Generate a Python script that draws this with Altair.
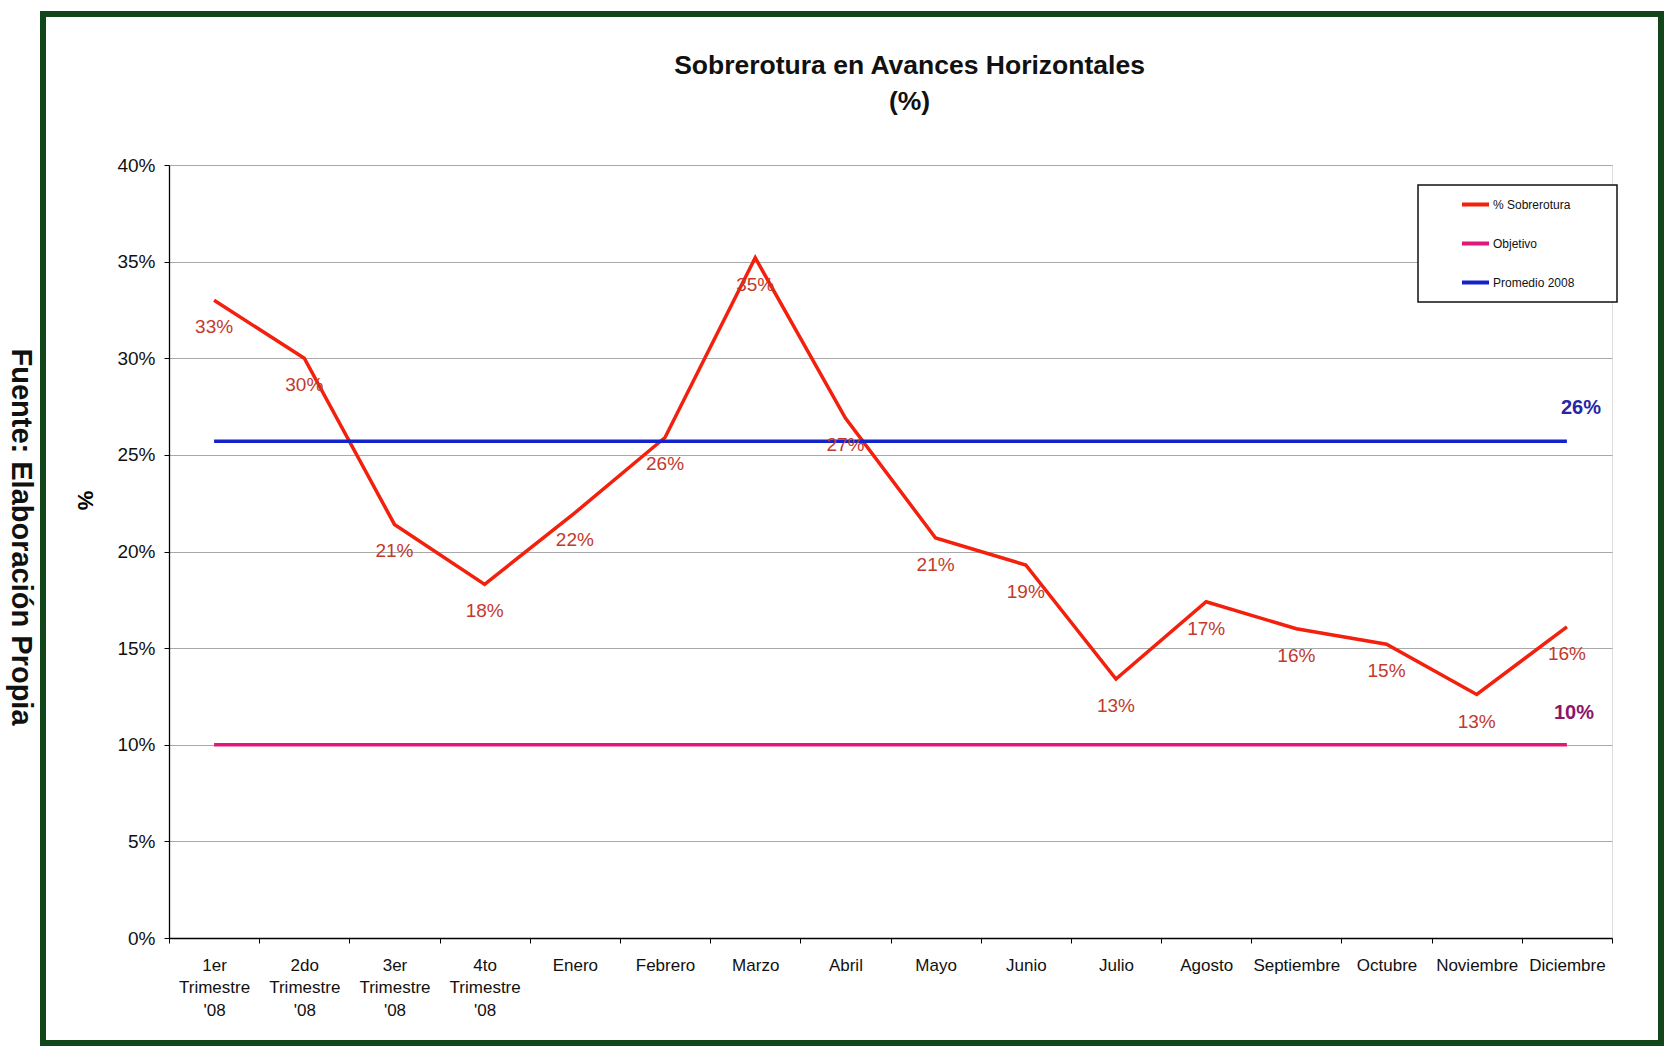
import altair as alt
import pandas as pd

# Categories (x axis); "|" marks line breaks in the tick labels
categorias = [
    "1er|Trimestre|'08", "2do|Trimestre|'08", "3er|Trimestre|'08", "4to|Trimestre|'08",
    "Enero", "Febrero", "Marzo", "Abril", "Mayo", "Junio", "Julio", "Agosto",
    "Septiembre", "Octubre", "Noviembre", "Diciembre",
]
# % Sobrerotura per period
sobrerotura = [0.330, 0.300, 0.214, 0.183, 0.220, 0.259, 0.352, 0.269,
               0.207, 0.193, 0.134, 0.174, 0.160, 0.152, 0.126, 0.161]
objetivo = 0.10
promedio_2008 = 0.257

series = ["% Sobrerotura", "Objetivo", "Promedio 2008"]
colores = ["#f2200c", "#e0187c", "#1422cc"]

FONT = "Liberation Sans"

rows = []
for i, (c, v) in enumerate(zip(categorias, sobrerotura)):
    rows.append({"categoria": c, "serie": series[0], "valor": v, "orden": i})
for i, c in enumerate(categorias):
    rows.append({"categoria": c, "serie": series[1], "valor": objetivo, "orden": i})
    rows.append({"categoria": c, "serie": series[2], "valor": promedio_2008, "orden": i})
df = pd.DataFrame(rows)
df_sob = df[df["serie"] == series[0]]

X = alt.X(
    "categoria:N",
    sort=categorias,
    bandPosition=0.5,
    scale=alt.Scale(type="band", paddingInner=0, paddingOuter=0),
    axis=alt.Axis(
        title=None,
        labelExpr="split(datum.label, '|')",
        labelAngle=0,
        labelFont=FONT,
        labelFontSize=17,
        labelLineHeight=22.5,
        labelColor="#111111",
        labelPadding=14,
        labelBaseline="top",
        tickBand="extent",
        tickSize=5,
        tickColor="#000000",
        domainColor="#000000",
        domainWidth=1.5,
        grid=False,
    ),
)
Y = alt.Y(
    "valor:Q",
    scale=alt.Scale(domain=[0, 0.4]),
    axis=alt.Axis(
        title="%",
        titleAngle=90,
        titleFont=FONT,
        titleFontSize=22,
        titleFontWeight="bold",
        titleX=-85,
        titleY=335,
        titleAlign="center",
        titleBaseline="middle",
        values=[0, 0.05, 0.10, 0.15, 0.20, 0.25, 0.30, 0.35, 0.40],
        format=".0%",
        labelFont=FONT,
        labelFontSize=19,
        labelColor="#111111",
        labelPadding=9,
        tickSize=5,
        tickColor="#000000",
        domainColor="#000000",
        domainWidth=1.3,
        grid=True,
        gridColor="#a9a9a9",
        gridWidth=1.2,
    ),
)

one = pd.DataFrame({"k": [0]})

# outer frame
marco = alt.Chart(one).mark_rect(
    fillOpacity=0, stroke="#12461a", strokeWidth=6
).encode(x=alt.value(-126), x2=alt.value(1492), y=alt.value(-151), y2=alt.value(878))

fuente = alt.Chart(one).mark_text(
    text="Fuente: Elaboración Propia", angle=90, font=FONT, fontSize=29,
    fontWeight="bold", color="#111111", align="center", baseline="middle",
).encode(x=alt.value(-148), y=alt.value(372))

# legend frame
caja = alt.Chart(one).mark_rect(
    fill="white", stroke="#111111", strokeWidth=1.5
).encode(x=alt.value(1249), x2=alt.value(1448), y=alt.value(20), y2=alt.value(137))

lineas = alt.Chart(df).mark_line(strokeWidth=3.5).encode(
    x=X,
    y=Y,
    order=alt.Order("orden:Q"),
    color=alt.Color(
        "serie:N",
        scale=alt.Scale(domain=series, range=colores),
        legend=alt.Legend(
            title=None,
            orient="none",
            legendX=1291,
            legendY=24,
            symbolType="stroke",
            symbolStrokeWidth=4,
            symbolSize=729,
            labelFont=FONT,
            labelFontSize=12,
            labelColor="#111111",
            labelOffset=2,
            rowPadding=15,
            padding=0,
        ),
    ),
)

etiquetas = alt.Chart(df_sob).mark_text(
    dy=27, font=FONT, fontSize=19, color="#c23a2c"
).encode(x=X, y=Y, text=alt.Text("valor:Q", format=".0%"))

etq_prom = alt.Chart(
    pd.DataFrame({"categoria": [categorias[-1]], "valor": [promedio_2008]})
).mark_text(dx=14, dy=-33, font=FONT, fontSize=20, fontWeight="bold", color="#2626a6").encode(
    x=X, y=Y, text=alt.Text("valor:Q", format=".0%")
)

etq_obj = alt.Chart(
    pd.DataFrame({"categoria": [categorias[-1]], "valor": [objetivo]})
).mark_text(dx=7, dy=-32, font=FONT, fontSize=20, fontWeight="bold", color="#8c1568").encode(
    x=X, y=Y, text=alt.Text("valor:Q", format=".0%")
)

chart = alt.layer(marco, fuente, caja, lineas, etiquetas, etq_prom, etq_obj).properties(
    width=1443,
    height=773,
    padding={"left": 169, "top": 165, "right": 56, "bottom": 111},
    autosize=alt.AutoSizeParams(type="none"),
    title=alt.TitleParams(
        text=["Sobrerotura en Avances Horizontales", "(%)"],
        font=FONT,
        fontSize=26.5,
        fontWeight="bold",
        color="#111111",
        anchor="middle",
        frame="group",
        dx=19,
        lineHeight=36,
        offset=-104,
    ),
).configure_view(stroke=None).configure(background="white")

chart.save("out.html", embed_options={"renderer": "svg", "actions": False})
